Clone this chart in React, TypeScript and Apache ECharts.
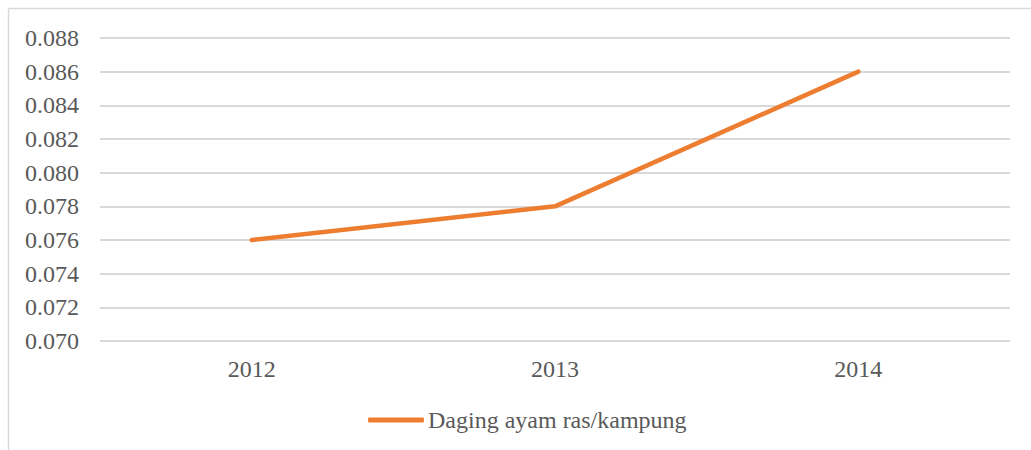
import React, { useEffect, useRef } from "react";
import * as echarts from "echarts";

const years = ["2012", "2013", "2014"];
const values = [0.076, 0.078, 0.086];
const seriesName = "Daging ayam ras/kampung";

export default function App() {
  const ref = useRef<HTMLDivElement>(null);
  useEffect(() => {
    if (!ref.current) return;
    const chart = echarts.init(ref.current, undefined, { renderer: "svg" });
    const font = "Liberation Serif";
    chart.setOption({
      animation: false,
      backgroundColor: "#ffffff",
      textStyle: { fontFamily: font },
      graphic: [
        { type: "line", shape: { x1: 8.5, y1: 8.5, x2: 1031, y2: 8.5 }, style: { stroke: "#d9d9d9", lineWidth: 1.5 } },
        { type: "line", shape: { x1: 8.5, y1: 8.5, x2: 8.5, y2: 450 }, style: { stroke: "#d9d9d9", lineWidth: 1.5 } },
      ],
      grid: { left: 100, right: 21, top: 38, bottom: 109, containLabel: false },
      legend: {
        data: [seriesName],
        left: 368,
        top: 408,
        padding: 0,
        icon: "roundRect",
        itemWidth: 56,
        itemHeight: 5,
        itemGap: 10,
        textStyle: { fontFamily: font, fontSize: 24, color: "#595959", padding: [0, 0, 0, -1] },
      },
      xAxis: {
        type: "category",
        data: years,
        boundaryGap: true,
        axisLine: { show: false },
        axisTick: { show: false },
        axisLabel: { fontFamily: font, fontSize: 24, color: "#595959", margin: 16 },
      },
      yAxis: {
        type: "value",
        min: 0.07,
        max: 0.088,
        interval: 0.002,
        axisLine: { show: false },
        axisTick: { show: false },
        splitLine: { lineStyle: { color: "#d9d9d9", width: 2 } },
        axisLabel: {
          fontFamily: font,
          fontSize: 24,
          color: "#595959",
          margin: 21,
          formatter: (v: number) => v.toFixed(3),
        },
      },
      series: [
        {
          name: seriesName,
          type: "line",
          data: values,
          showSymbol: false,
          symbol: "none",
          lineStyle: { color: "#ED7D31", width: 4.5, cap: "round", join: "round" },
          itemStyle: { color: "#ED7D31" },
        },
      ],
    });
    return () => chart.dispose();
  }, []);
  return (
    <div
      ref={ref}
      style={{ position: "absolute", left: 0, top: 0, width: 1031, height: 450 }}
    />
  );
}
